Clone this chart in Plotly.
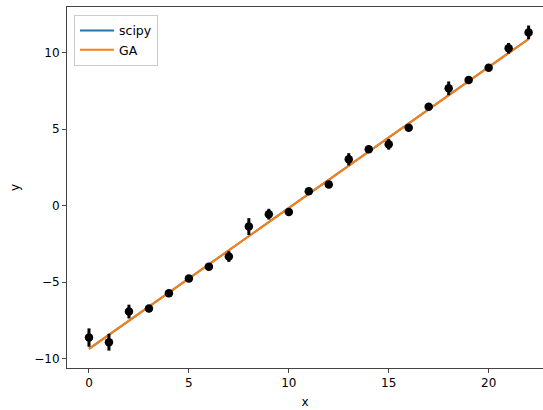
import plotly.graph_objects as go

# data
x_data = [0, 1, 2, 3, 4, 5, 6, 7, 8, 9, 10, 11, 12, 13, 14, 15, 16, 17, 18, 19, 20, 21, 22]
y_data = [-8.63, -8.93, -6.93, -6.73, -5.73, -4.77, -3.99, -3.33, -1.37, -0.56, -0.41, 0.94,
          1.38, 3.03, 3.69, 4.01, 5.10, 6.47, 7.67, 8.22, 9.02, 10.29, 11.33]
y_err = [0.6, 0.55, 0.45, 0.2, 0.2, 0.2, 0.2, 0.35, 0.55, 0.35, 0.2, 0.2,
         0.2, 0.4, 0.2, 0.35, 0.2, 0.2, 0.45, 0.2, 0.2, 0.35, 0.45]

fit_x = [0, 22]
scipy_y = [-9.37, 10.90]
ga_y = [-9.37, 10.90]

FONT = "DejaVu Sans"

fig = go.Figure()
fig.add_trace(go.Scatter(x=fit_x, y=scipy_y, mode="lines", name="scipy",
                         line=dict(color="#1f77b4", width=2)))
fig.add_trace(go.Scatter(x=fit_x, y=ga_y, mode="lines", name="GA",
                         line=dict(color="#ff7f0e", width=2)))
fig.add_trace(go.Scatter(x=x_data, y=y_data, mode="markers", showlegend=False,
                         marker=dict(color="black", size=8.5, line=dict(width=0)),
                         error_y=dict(type="data", array=y_err, visible=True,
                                      color="black", thickness=3, width=0)))

axis_common = dict(showgrid=False, zeroline=False, showline=True, linecolor="#444",
                   linewidth=1, ticks="outside", ticklen=4, tickwidth=1, tickcolor="#444",
                   tickfont=dict(family=FONT, size=12, color="black"))

fig.update_layout(
    width=543, height=410,
    margin=dict(l=67, r=0, t=7, b=42),
    plot_bgcolor="white", paper_bgcolor="white",
    font=dict(family=FONT, size=12, color="black"),
    xaxis=dict(range=[-1.1, 22.72], tickvals=[0, 5, 10, 15, 20], mirror=True,
               title=dict(text="x", font=dict(family=FONT, size=12), standoff=8),
               **axis_common),
    yaxis=dict(range=[-10.62, 12.99], tickvals=[-10, -5, 0, 5, 10],
               title=dict(text="y", font=dict(family=FONT, size=12), standoff=12),
               **axis_common),
    legend=dict(x=0.0147, y=0.978, xanchor="left", yanchor="top",
                bgcolor="rgba(255,255,255,0.8)", bordercolor="#cccccc", borderwidth=1,
                font=dict(family=FONT, size=12.5), tracegroupgap=0, itemwidth=34),
)

fig.write_html("out.html")
